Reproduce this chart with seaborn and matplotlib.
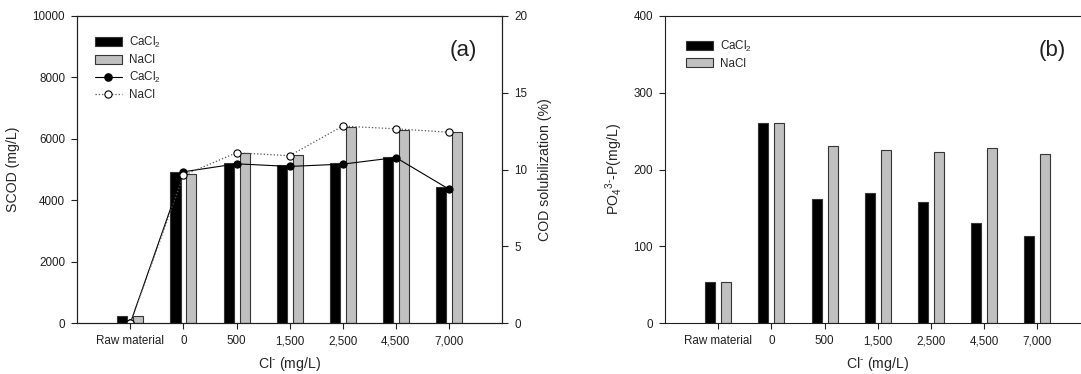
import numpy as np
import pandas as pd
import matplotlib
matplotlib.use("Agg")
import matplotlib.pyplot as plt
import seaborn as sns
from matplotlib.lines import Line2D
from matplotlib.patches import Patch

# ---- data ----
categories = ["Raw material", "0", "500", "1,500", "2,500", "4,500", "7,000"]
scod_cacl2 = [215, 4930, 5205, 5140, 5205, 5400, 4425]
scod_nacl = [235, 4860, 5540, 5465, 6400, 6300, 6235]
sol_cacl2 = [0.0, 9.85, 10.37, 10.2, 10.35, 10.78, 8.72]
sol_nacl = [0.0, 9.62, 11.09, 10.9, 12.83, 12.65, 12.43]
po4_cacl2 = [54, 260, 161, 169, 158, 130, 114]
po4_nacl = [54, 260, 231, 225, 223, 228, 220]
salts = ["CaCl2", "NaCl"]

sns.set_theme(style="ticks")
plt.rcParams["font.family"] = ["Liberation Sans", "DejaVu Sans"]
plt.rcParams["mathtext.fontset"] = "custom"
plt.rcParams["mathtext.rm"] = "Liberation Sans"
plt.rcParams["mathtext.it"] = "Liberation Sans:italic"
plt.rcParams["mathtext.bf"] = "Liberation Sans:bold"
plt.rcParams["axes.linewidth"] = 0.8
plt.rcParams["axes.edgecolor"] = "#202020"

W, H = 1081, 374
fig = plt.figure(figsize=(W / 100, H / 100), dpi=100)
axL = fig.add_axes([77.3 / W, 51 / H, 424.7 / W, 307 / H])
axR = fig.add_axes([665 / W, 51 / H, 425.6 / W, 307 / H])

palette = {"CaCl2": "#000000", "NaCl": "#c0c0c0"}
tick_fs = 8.4
label_fs = 10.2
leg_fs = 8.4
msize = 5.2

def bars(ax, a, b):
    df = pd.DataFrame({
        "cat": categories * 2,
        "val": list(a) + list(b),
        "salt": [salts[0]] * len(categories) + [salts[1]] * len(categories),
    })
    sns.barplot(data=df, x="cat", y="val", hue="salt", order=categories,
                hue_order=salts, palette=palette, width=0.6, gap=0.37,
                edgecolor="#353535", linewidth=0.8, ax=ax, legend=False,
                errorbar=None, saturation=1)
    ax.set_xlim(-1, 7)
    ax.tick_params(axis="both", direction="out", length=4.5, width=0.8,
                   labelsize=tick_fs, pad=4.3, colors="#202020")
    for t in ax.get_xticklabels() + ax.get_yticklabels():
        t.set_color("#202020")

xl = r"Cl$^{\text{-}}$ (mg/L)"

# ---- panel (a) ----
bars(axL, scod_cacl2, scod_nacl)
axL.set_ylim(0, 10000)
axL.set_yticks([0, 2000, 4000, 6000, 8000, 10000])
axL.set_ylabel("SCOD (mg/L)", fontsize=label_fs, labelpad=9)
axL.set_xlabel(xl, fontsize=label_fs, labelpad=5.5)

ax2 = axL.twinx()
xpos = np.arange(len(categories))
sns.lineplot(x=xpos, y=sol_cacl2, ax=ax2, color="black", linewidth=0.8,
             marker="o", markersize=msize, markerfacecolor="black",
             markeredgecolor="black", linestyle="-")
sns.lineplot(x=xpos, y=sol_nacl, ax=ax2, color="#555555", linewidth=0.9,
             marker="o", markersize=msize, markerfacecolor="white",
             markeredgecolor="black", markeredgewidth=0.8, linestyle=":")
ax2.set_ylim(0, 20)
ax2.set_xlim(-1, 7)
ax2.set_yticks([0, 5, 10, 15, 20])
ax2.tick_params(axis="y", direction="out", length=4.5, width=0.8,
                labelsize=tick_fs, pad=4.3, colors="#202020")
ax2.set_ylabel("COD solubilization (%)", fontsize=label_fs, labelpad=8)

handles = [
    Patch(facecolor="#000000", edgecolor="#353535", linewidth=0.8),
    Patch(facecolor="#c0c0c0", edgecolor="#353535", linewidth=0.8),
    Line2D([], [], color="black", linewidth=0.8, marker="o", markersize=msize,
           markerfacecolor="black"),
    Line2D([], [], color="#555555", linewidth=0.9, linestyle=":", marker="o",
           markersize=msize, markerfacecolor="white", markeredgecolor="black",
           markeredgewidth=0.8),
]
labels = ["CaCl$_2$", "NaCl", "CaCl$_2$", "NaCl"]
ax2.legend(handles, labels, loc="upper left",
           bbox_to_anchor=(17.4 / 424.7, 1 - 19 / 307), borderaxespad=0,
           borderpad=0, frameon=False, fontsize=leg_fs, handlelength=2.35,
           handleheight=0.8, handletextpad=0.6, labelspacing=0.35)
axL.text(6.27, 0.889, "(a)", transform=axL.get_xaxis_transform(),
         ha="center", va="center", fontsize=16, color="#202020")

# ---- panel (b) ----
bars(axR, po4_cacl2, po4_nacl)
axR.set_ylim(0, 400)
axR.set_yticks([0, 100, 200, 300, 400])
axR.set_ylabel(r"PO$_4$$^{3\text{-}}$-P(mg/L)", fontsize=label_fs, labelpad=6)
axR.set_xlabel(xl, fontsize=label_fs, labelpad=5.5)
axR.spines["right"].set_visible(False)
hb = [Patch(facecolor="#000000", edgecolor="#353535", linewidth=0.8),
      Patch(facecolor="#c0c0c0", edgecolor="#353535", linewidth=0.8)]
axR.legend(hb, ["CaCl$_2$", "NaCl"], loc="upper left",
           bbox_to_anchor=(20.6 / 425.6, 1 - 22.5 / 307), borderaxespad=0,
           borderpad=0, frameon=False, fontsize=leg_fs, handlelength=2.35,
           handleheight=0.8, handletextpad=0.6, labelspacing=0.35)
axR.text(6.27, 0.889, "(b)", transform=axR.get_xaxis_transform(),
         ha="center", va="center", fontsize=16, color="#202020")

fig.savefig("out.png", dpi=100)
